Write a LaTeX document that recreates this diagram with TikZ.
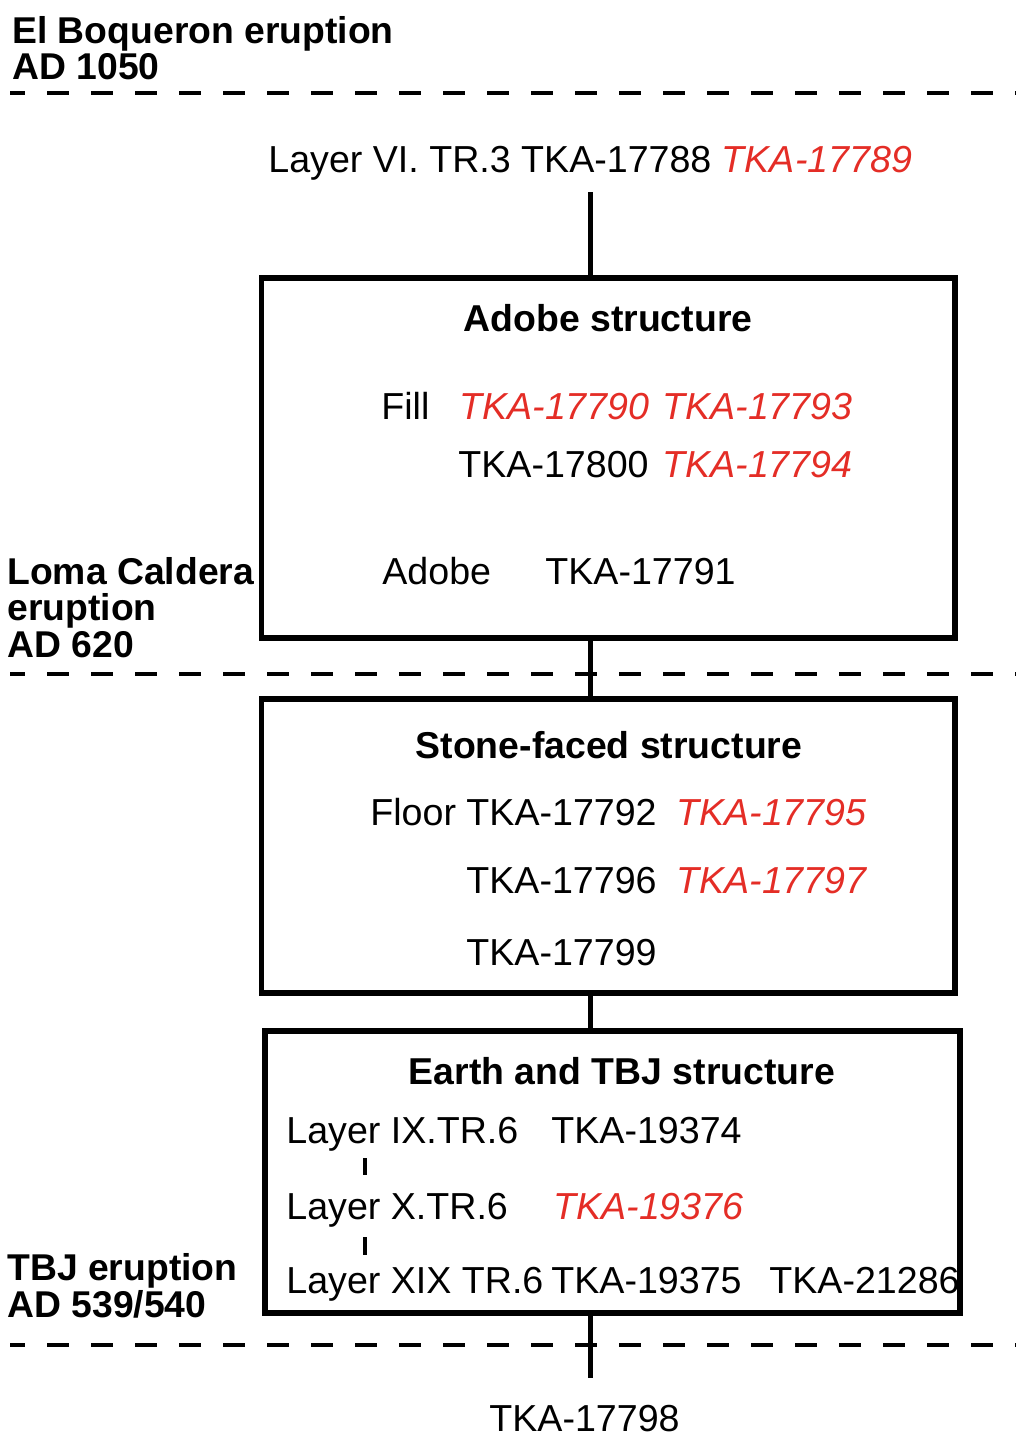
\documentclass[tikz,border=0pt]{standalone}
\usepackage{fontspec}
\setmainfont{Liberation Sans}
\definecolor{tkared}{RGB}{228,45,38}
\begin{document}
\begin{tikzpicture}[
  x=0.5pt, y=-0.5pt,
  txt/.style={anchor=base west, inner sep=0pt, font=\fontsize{18.8}{22}\selectfont},
  era/.style={txt, font=\fontsize{18.65}{22}\selectfont\bfseries},
  head/.style={anchor=base, inner sep=0pt, font=\fontsize{18.7}{22}\selectfont\bfseries},
  hot/.style={txt, text=tkared, font=\fontsize{18.8}{22}\selectfont\itshape},
  panel/.style={draw, line width=2.75pt, inner sep=0pt, rectangle},
  link/.style={line width=2.5pt},
  tick/.style={line width=2pt},
  horizon/.style={line width=1.6pt, dash pattern=on 11pt off 11pt, dash phase=3.5pt}
]
\useasboundingbox (0,0) rectangle (1016,1436);

% eruption horizons
\draw[horizon] (10,93) -- (1016,93);
\draw[horizon] (10,674) -- (1016,674);
\draw[horizon] (10,1345) -- (1016,1345);

% eruption labels
\node[era] (boq1) at (12,43) {El Boqueron eruption};
\node[era] (boq2) at (12,79) {AD 1050};
\node[era] (loma1) at (7,584) {Loma Caldera};
\node[era] (loma2) at (7,620) {eruption};
\node[era] (loma3) at (7,657) {AD 620};
\node[era] (tbj1) at (7,1280) {TBJ eruption};
\node[era] (tbj2) at (7,1317) {AD 539/540};

% structures
\node[panel, minimum width=346.75pt, minimum height=180pt] (adobe) at (608.25,458) {};
\node[panel, minimum width=346.75pt, minimum height=147pt] (stone) at (608.25,846) {};
\node[panel, minimum width=347.5pt, minimum height=141pt] (earth) at (612.5,1172) {};

% top sample
\node[txt] (layer6) at (268,172) {Layer VI. TR.3 TKA-17788 \textcolor{tkared}{\itshape TKA-17789}};

% adobe structure
\node[head] (adobeh) at (608,331) {Adobe structure};
\node[txt] (fill) at (381,419) {Fill};
\node[hot] (s90) at (459,419) {TKA-17790};
\node[hot] (s93) at (662,419) {TKA-17793};
\node[txt] (s800) at (458,477) {TKA-17800};
\node[hot] (s94) at (662,477) {TKA-17794};
\node[txt] (adobel) at (382,584) {Adobe};
\node[txt] (s91) at (545,584) {TKA-17791};

% stone-faced structure
\node[head] (stoneh) at (609,758) {Stone-faced structure};
\node[txt] (floor) at (370,825) {Floor TKA-17792};
\node[hot] (s95) at (676,825) {TKA-17795};
\node[txt] (s96) at (466,893) {TKA-17796};
\node[hot] (s97) at (676,893) {TKA-17797};
\node[txt] (s99) at (466,965) {TKA-17799};

% earth and TBJ structure
\node[head] (earthh) at (622,1084) {Earth and TBJ structure};
\node[txt] (l9) at (286,1143) {Layer IX.TR.6};
\node[txt] (s374) at (551,1143) {TKA-19374};
\node[txt] (l10) at (286,1219) {Layer X.TR.6};
\node[hot] (s376) at (553,1219) {TKA-19376};
\node[txt] (l19) at (286,1293) {Layer XIX TR.6};
\node[txt] (s375) at (551,1293) {TKA-19375};
\node[txt] (s286) at (769,1293) {TKA-21286};

% bottom sample
\node[txt] (s98) at (489,1431) {TKA-17798};

% sequence line
\coordinate (spine) at (590,0);
\coordinate (topend) at (590,192);
\coordinate (botend) at (590,1378);
\draw[link] (topend) -- (adobe.north -| spine);
\draw[link] (adobe.south -| spine) -- (stone.north -| spine);
\draw[link] (stone.south -| spine) -- (earth.north -| spine);
\draw[link] (earth.south -| spine) -- (botend);

% layer succession ticks
\coordinate (t1a) at (365,1158);
\coordinate (t1b) at (365,1175);
\coordinate (t2a) at (365,1237);
\coordinate (t2b) at (365,1255);
\draw[tick] (t1a) -- (t1b);
\draw[tick] (t2a) -- (t2b);
\end{tikzpicture}
\end{document}
